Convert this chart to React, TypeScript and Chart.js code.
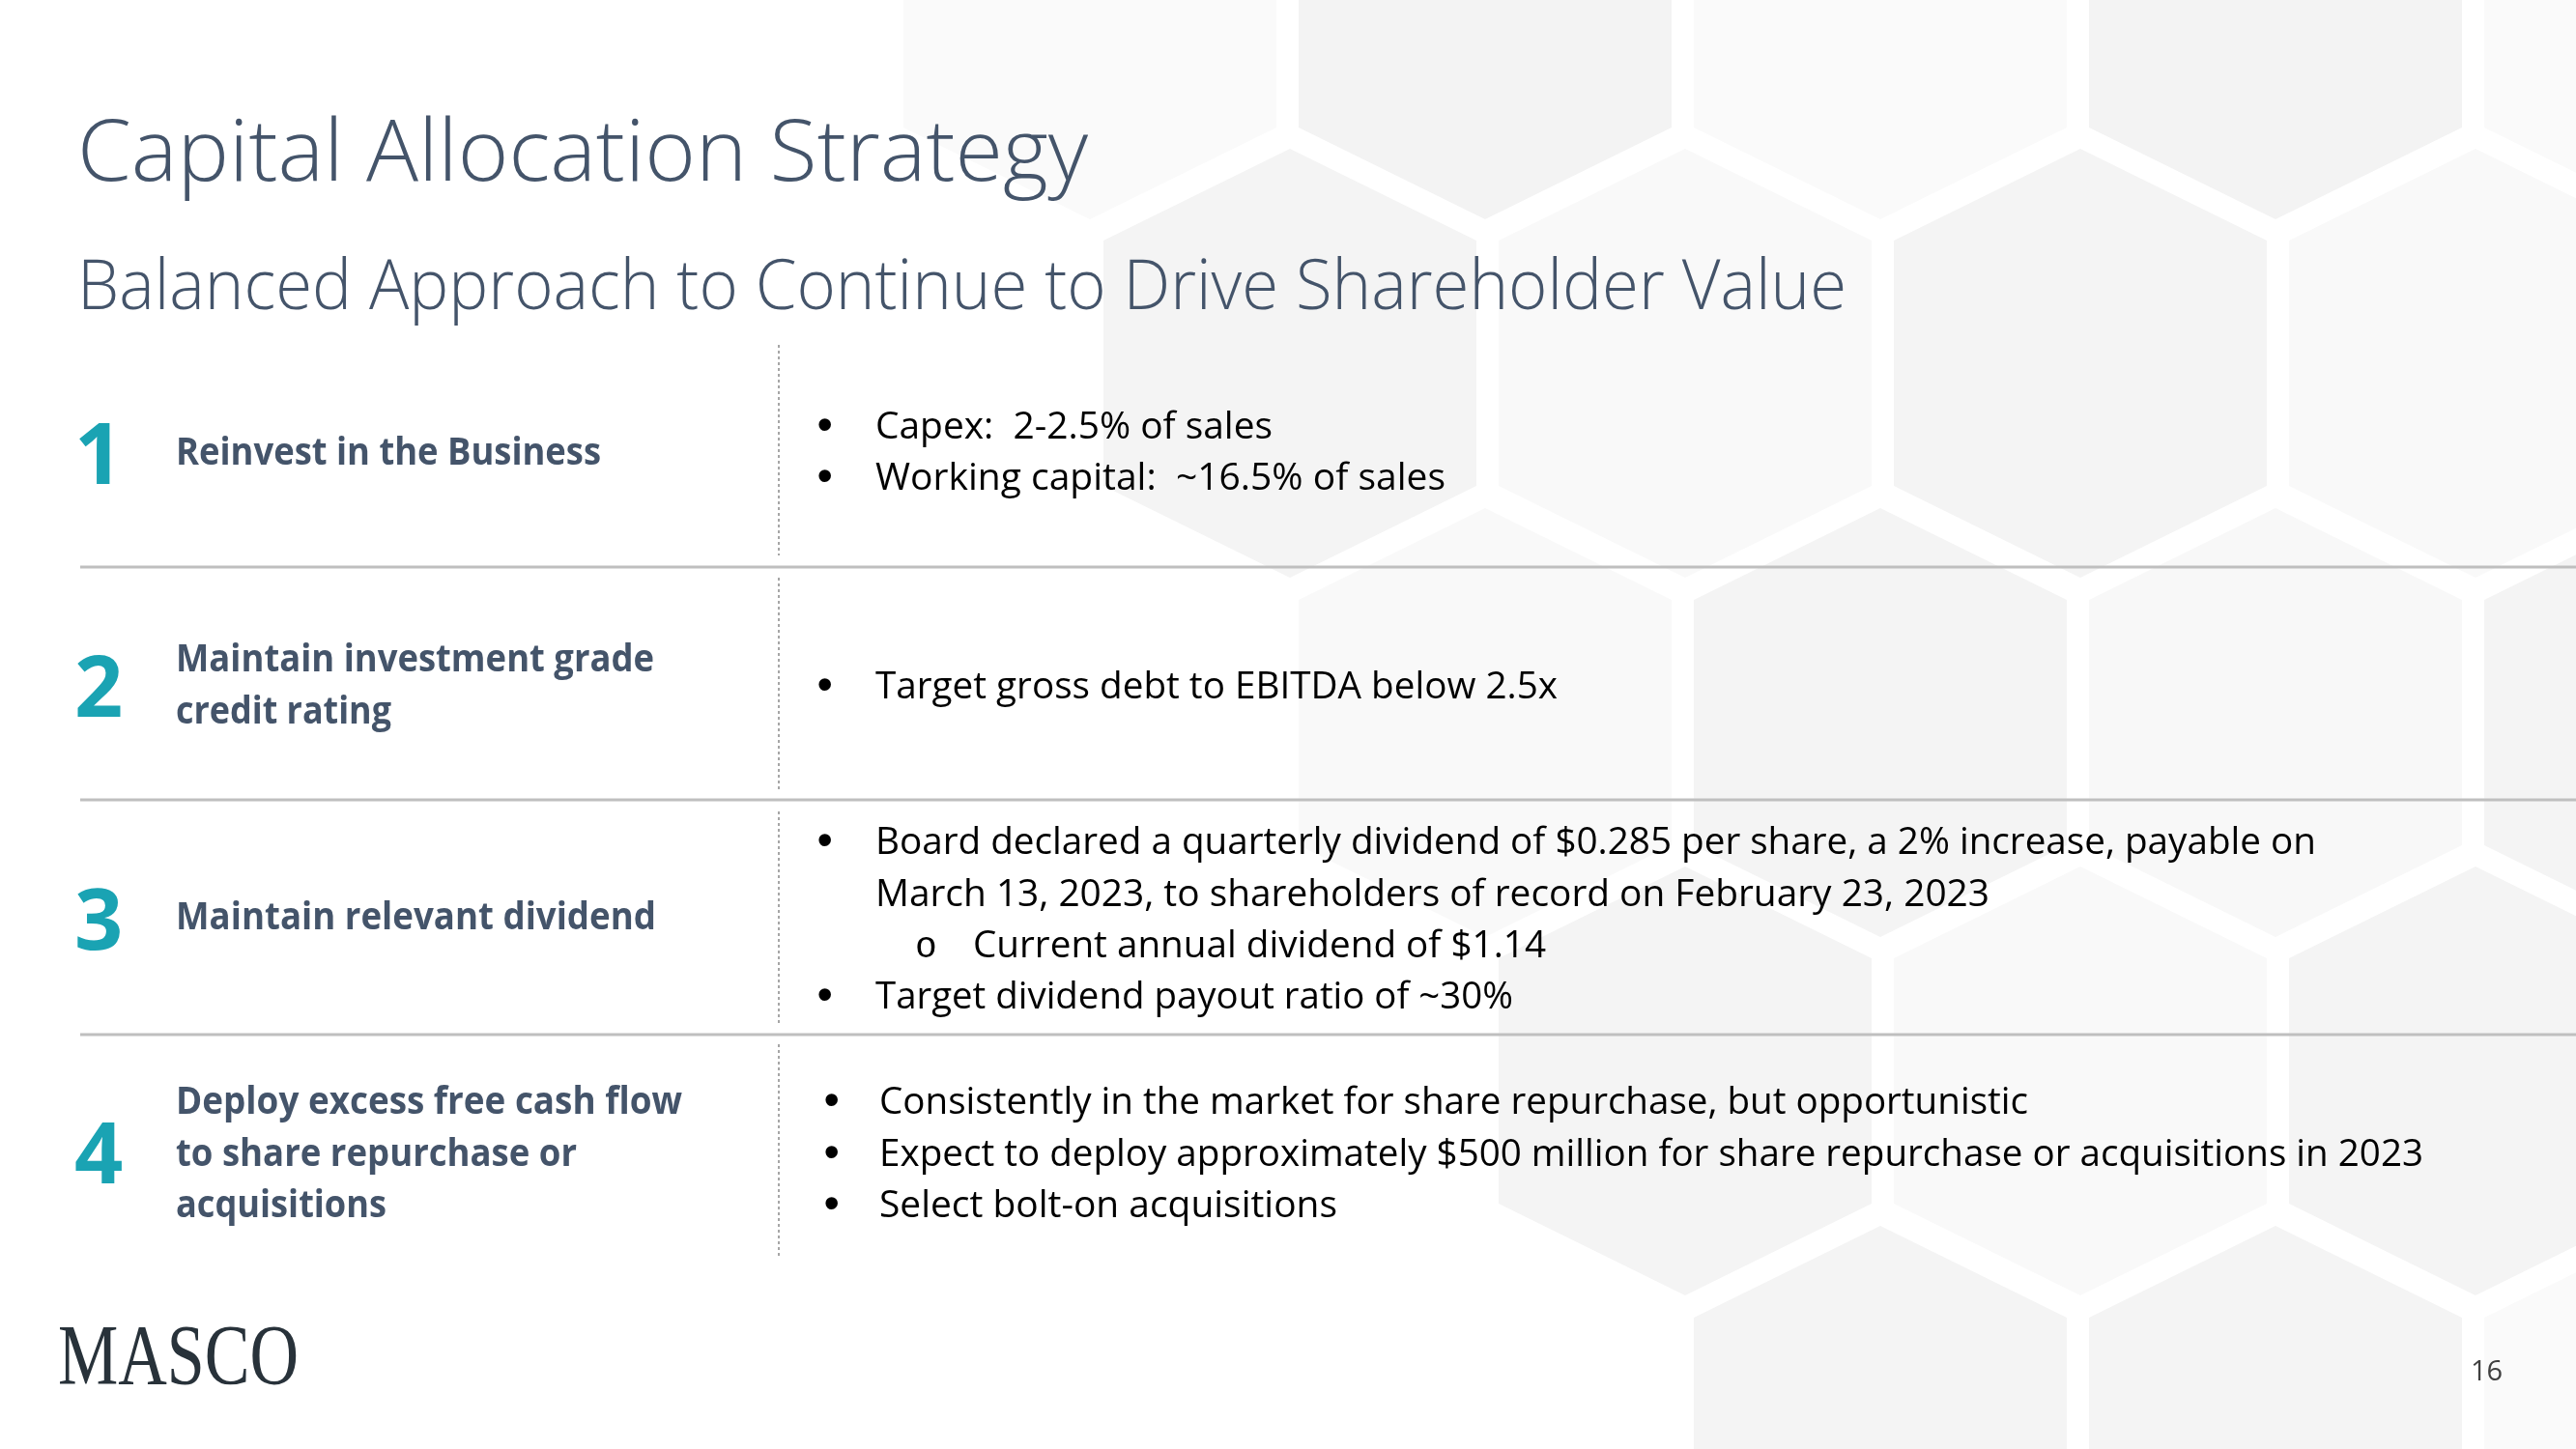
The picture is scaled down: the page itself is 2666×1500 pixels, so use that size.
import React, { useEffect, useRef } from "react";
import { Chart, registerables } from "chart.js";

Chart.register(...registerables);

// ---------- content ----------
const slideTitle = "Capital Allocation Strategy";
const slideSubtitle = "Balanced Approach to Continue to Drive Shareholder Value";
const rowNumbers = ["1", "2", "3", "4"];
const rowTitles: string[][] = [
  ["Reinvest in the Business"],
  ["Maintain investment grade", "credit rating"],
  ["Maintain relevant dividend"],
  ["Deploy excess free cash flow", "to share repurchase or", "acquisitions"],
];
// level 1 = bullet, level 0 = continuation line, level 2 = sub bullet
const rowBullets: { text: string; level: number }[][] = [
  [
    { text: "Capex:  2-2.5% of sales", level: 1 },
    { text: "Working capital:  ~16.5% of sales", level: 1 },
  ],
  [{ text: "Target gross debt to EBITDA below 2.5x", level: 1 }],
  [
    { text: "Board declared a quarterly dividend of $0.285 per share, a 2% increase, payable on", level: 1 },
    { text: "March 13, 2023, to shareholders of record on February 23, 2023", level: 0 },
    { text: "Current annual dividend of $1.14", level: 2 },
    { text: "Target dividend payout ratio of ~30%", level: 1 },
  ],
  [
    { text: "Consistently in the market for share repurchase, but opportunistic", level: 1 },
    { text: "Expect to deploy approximately $500 million for share repurchase or acquisitions in 2023", level: 1 },
    { text: "Select bolt-on acquisitions", level: 1 },
  ],
];
const logoText = "MASCO";
const pageNumber = "16";

// ---------- layout (pixels of the 2666x1500 slide) ----------
const W = 2666;
const H = 1500;
const numberBaselines = [501, 742, 983, 1225];
const titleBaselines = [[481], [695, 749], [962], [1153, 1207, 1260]];
const titleWidths = [[440], [495, 223], [497], [524, 415, 218]];
const bulletBaselines = [[454, 507], [723], [884, 938, 991, 1044], [1153, 1207, 1260]];
const bulletWidths = [[411, 590], [706], [1491, 1153, 593, 660], [1189, 1598, 474]];
const bulletDotX = [846, 846, 846, 853];
const bulletTextX = [906, 906, 906, 910];
const separatorsY = [587, 828, 1071];
const dottedSegments = [
  [357, 575],
  [598, 818],
  [840, 1061],
  [1081, 1301],
];

// honeycomb background: rows of hexagon centres with shades
const hexRows: { cy: number; cx: number[]; shade: string[] }[] = [
  { cy: 5, cx: [1128, 1537, 1946, 2355, 2764], shade: ["#fafafa", "#f3f3f3", "#fafafa", "#f3f3f3", "#fafafa"] },
  { cy: 376, cx: [1335, 1744, 2153, 2562], shade: ["#f4f4f4", "#f9f9f9", "#f4f4f4", "#f9f9f9"] },
  { cy: 748, cx: [1537, 1946, 2355, 2764], shade: ["#f9f9f9", "#f4f4f4", "#f8f8f8", "#f4f4f4"] },
  { cy: 1119, cx: [1744, 2153, 2562], shade: ["#f4f4f4", "#f9f9f9", "#f4f4f4"] },
  { cy: 1491, cx: [1946, 2355, 2764], shade: ["#f4f4f4", "#f4f4f4", "#fafafa"] },
];

const SLATE = "#44546a";
const TEAL = "#1aa3b3";
const SANS = '"Open Sans", "Noto Sans", sans-serif';

function drawText(
  ctx: CanvasRenderingContext2D,
  s: string,
  x: number,
  y: number,
  font: string,
  color: string,
  width?: number
) {
  ctx.font = font;
  ctx.fillStyle = color;
  ctx.textBaseline = "alphabetic";
  ctx.textAlign = "left";
  const m = ctx.measureText(s).width;
  ctx.save();
  ctx.translate(x, y);
  if (width && m > 0) ctx.scale(width / m, 1);
  ctx.fillText(s, 0, 0);
  ctx.restore();
}

const slidePlugin = {
  id: "slidePainter",
  beforeDraw(chart: any) {
    const ctx: CanvasRenderingContext2D = chart.ctx;
    const sx = chart.scales.x;
    const sy = chart.scales.y;
    const px = (v: number) => sx.getPixelForValue(v);
    const py = (v: number) => sy.getPixelForValue(v);

    ctx.save();
    ctx.fillStyle = "#ffffff";
    ctx.fillRect(0, 0, chart.width, chart.height);

    // hexagons
    const hw = 193,
      hs = 127,
      ap = 222;
    hexRows.forEach((row) => {
      row.cx.forEach((cx, i) => {
        ctx.beginPath();
        ctx.moveTo(px(cx), py(row.cy - ap));
        ctx.lineTo(px(cx + hw), py(row.cy - hs));
        ctx.lineTo(px(cx + hw), py(row.cy + hs));
        ctx.lineTo(px(cx), py(row.cy + ap));
        ctx.lineTo(px(cx - hw), py(row.cy + hs));
        ctx.lineTo(px(cx - hw), py(row.cy - hs));
        ctx.closePath();
        ctx.fillStyle = row.shade[i];
        ctx.fill();
      });
    });

    // separators
    ctx.strokeStyle = "#bfbfbf";
    ctx.lineWidth = 3;
    separatorsY.forEach((y) => {
      ctx.beginPath();
      ctx.moveTo(px(83), py(y));
      ctx.lineTo(px(W), py(y));
      ctx.stroke();
    });

    // dotted divider
    ctx.strokeStyle = "#a6a6a6";
    ctx.lineWidth = 2;
    ctx.setLineDash([3, 3]);
    dottedSegments.forEach(([a, b]) => {
      ctx.beginPath();
      ctx.moveTo(px(806), py(a));
      ctx.lineTo(px(806), py(b));
      ctx.stroke();
    });
    ctx.setLineDash([]);

    // headings
    drawText(ctx, slideTitle, px(80), py(187), `300 88px ${SANS}`, SLATE, 1046);
    drawText(ctx, slideSubtitle, px(80), py(320), `300 72px ${SANS}`, SLATE, 1831);

    // rows
    rowNumbers.forEach((n, r) => {
      drawText(ctx, n, px(77), py(numberBaselines[r]), `bold 88px ${SANS}`, TEAL);
      rowTitles[r].forEach((t, k) => {
        drawText(ctx, t, px(182), py(titleBaselines[r][k]), `bold 39px ${SANS}`, SLATE, titleWidths[r][k]);
      });
      rowBullets[r].forEach((b, k) => {
        const y = bulletBaselines[r][k];
        if (b.level === 1) {
          drawText(ctx, "\u2022", px(bulletDotX[r]), py(y), `bold 44px "Liberation Sans", Arial, sans-serif`, "#000000");
          drawText(ctx, b.text, px(bulletTextX[r]), py(y), `39px ${SANS}`, "#000000", bulletWidths[r][k]);
        } else if (b.level === 0) {
          drawText(ctx, b.text, px(bulletTextX[r]), py(y), `39px ${SANS}`, "#000000", bulletWidths[r][k]);
        } else {
          drawText(ctx, "o", px(947), py(y), `38px "Liberation Mono", monospace`, "#000000");
          drawText(ctx, b.text, px(1007), py(y), `39px ${SANS}`, "#000000", bulletWidths[r][k]);
        }
      });
    });

    // footer
    drawText(ctx, logoText, px(60), py(1432), `88px "Liberation Serif", serif`, "#28323a", 249);
    drawText(ctx, pageNumber, px(2557), py(1429), `29px ${SANS}`, "#404040");
    ctx.restore();
  },
};

export default function App() {
  const ref = useRef<HTMLCanvasElement | null>(null);
  useEffect(() => {
    document.body.style.margin = "0";
    const canvas = ref.current;
    if (!canvas) return;
    const chart = new Chart(canvas, {
      type: "scatter",
      data: { datasets: [{ data: [], pointRadius: 0 }] },
      options: {
        responsive: false,
        animation: false,
        devicePixelRatio: 1,
        layout: { padding: 0 },
        plugins: { legend: { display: false }, tooltip: { enabled: false } },
        scales: {
          x: { type: "linear", min: 0, max: W, display: false },
          y: { type: "linear", min: 0, max: H, reverse: true, display: false },
        },
      },
      plugins: [slidePlugin],
    });
    if ((document as any).fonts && (document as any).fonts.ready) {
      (document as any).fonts.ready.then(() => chart.draw());
    }
    return () => chart.destroy();
  }, []);
  return (
    <canvas
      ref={ref}
      width={W}
      height={H}
      style={{ display: "block", width: W + "px", height: H + "px" }}
    />
  );
}
